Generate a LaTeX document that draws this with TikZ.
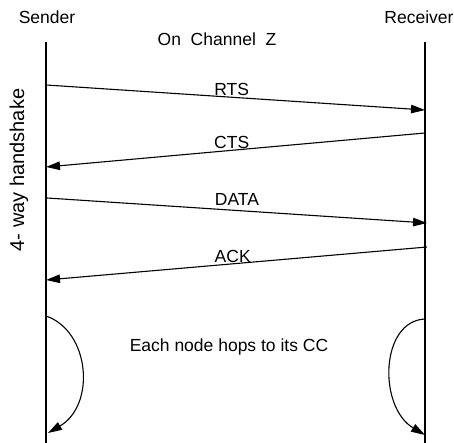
\documentclass[tikz,border=0pt]{standalone}
\usepackage{fontspec}
\setmainfont{Liberation Sans}
\usepackage{tikz}
\usetikzlibrary{arrows.meta,positioning,calc}
\tikzset{
  lifeline/.style={line width=1.1pt},
  msg/.style={line width=1.1pt, -{Triangle[length=14pt,width=8.5pt]}},
  msglbl/.style={anchor=south, inner sep=1pt},
  party/.style={inner sep=0pt},
  hop/.style={line width=1.1pt, -{Triangle[length=14pt,width=8.5pt]}},
}

\begin{document}
\begin{tikzpicture}[x=1pt, y=1pt, font=\fontsize{17.5}{20}\selectfont]
    \useasboundingbox (0,0) rectangle (454,443);
    \node[party] (sender)   at (47,426)  {Sender};
    \node[party] (receiver) at (419,426) {Receiver};
    \node[party] (chan)     at (217,404) {On\ \ Channel\ \ Z};
    \node[rotate=90, font=\fontsize{20}{22}\selectfont, inner sep=0pt] (hs) at (19,273) {4- way handshake};
    % lifelines
    \coordinate (s-top) at (46,401);
    \coordinate (s-bot) at (46,0);
    \coordinate (r-top) at (425,401);
    \coordinate (r-bot) at (425,0);
    \draw[lifeline] (s-top) -- (s-bot);
    \draw[lifeline] (r-top) -- (r-bot);
    % handshake
    \coordinate (rts-a)  at (46,358);
    \coordinate (rts-b)  at (425,333);
    \coordinate (cts-a)  at (425,310);
    \coordinate (cts-b)  at (46,276);
    \coordinate (data-a) at (47,245);
    \coordinate (data-b) at (427,220);
    \coordinate (ack-a)  at (427,196);
    \coordinate (ack-b)  at (46,163);
    \draw[msg] (rts-a)  -- node[msglbl, pos=0.49] (rts) {RTS} (rts-b);
    \draw[msg] (cts-a)  -- node[msglbl, pos=0.51] (cts) {CTS} (cts-b);
    \draw[msg] (data-a) -- node[msglbl, pos=0.50, yshift=3pt] (data) {DATA} (data-b);
    \draw[msg] (ack-a)  -- node[msglbl, pos=0.51] (ack) {ACK} (ack-b);
    % channel hop
    \node[inner sep=0pt] (hopnote) at (229,96) {Each node hops to its CC};
    \coordinate (s-hop1) at (46,127);
    \coordinate (s-hop2) at (48,10);
    \coordinate (r-hop1) at (425,124);
    \coordinate (r-hop2) at (425,8);
    \draw[hop] (s-hop1) .. controls (90,112) and (96,38) .. (s-hop2);
    \draw[hop] (r-hop1) .. controls (380,122) and (378,36) .. (r-hop2);
\end{tikzpicture}
\end{document}
